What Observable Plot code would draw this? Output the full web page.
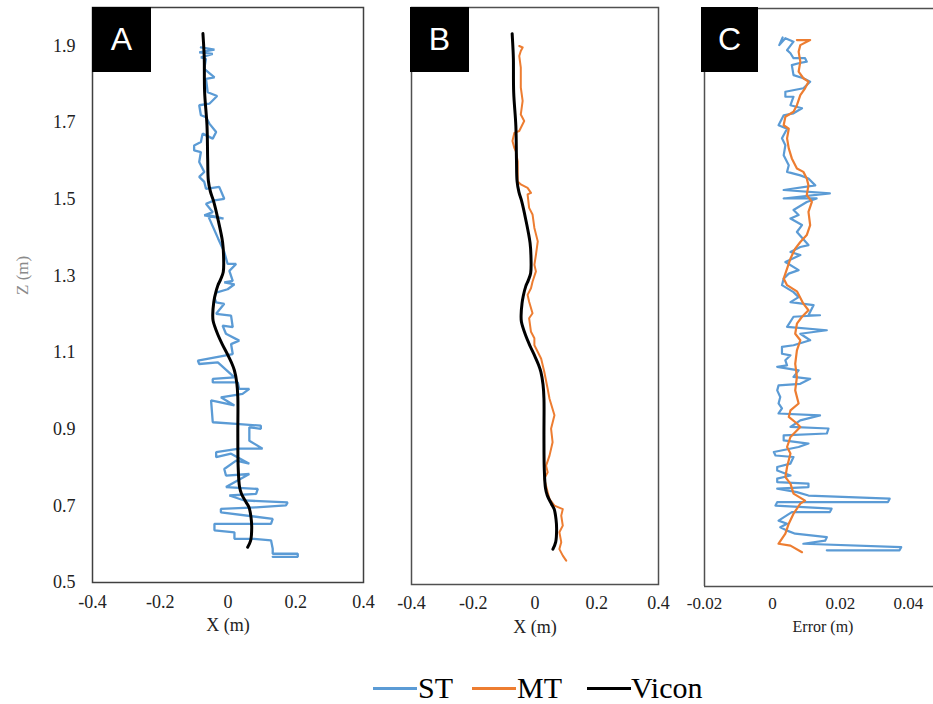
<!DOCTYPE html>
<html><head><meta charset="utf-8">
<script src="https://cdn.jsdelivr.net/npm/d3@7"></script>
<script src="https://cdn.jsdelivr.net/npm/@observablehq/plot@0.6"></script>
<style>
body{margin:0;background:#fff;}
#wrap{position:relative;width:933px;height:704px;overflow:hidden;background:#fff;}
.panel{position:absolute;top:0;}
.tag{position:absolute;top:7px;height:65px;background:#000;color:#fff;font-family:"Liberation Sans",Arial,sans-serif;font-size:32px;display:flex;align-items:center;justify-content:center;}
.leg{position:absolute;font-family:"Liberation Serif","Times New Roman","DejaVu Serif",serif;font-size:30px;color:#000;line-height:34px;top:671px;}
.legline{position:absolute;top:687px;height:3px;}
</style></head>
<body><div id="wrap"></div>
<script>
// ---------- data ----------
const zDomain = [0.5, 2.0];
const zTicks = [0.5, 0.7, 0.9, 1.1, 1.3, 1.5, 1.7, 1.9];
const xDomainAB = [-0.4, 0.4];
const xTicksAB = [-0.4, -0.2, 0, 0.2, 0.4];
const xDomainC = [-0.02, 0.0474];
const xTicksC = [-0.02, 0, 0.02, 0.04];
const panelTags = ["A", "B", "C"];
const axisLabels = {x: "X (m)", z: "Z (m)", err: "Error (m)"};
const seriesNames = ["ST", "MT", "Vicon"];
const seriesColors = ["#5b9bd5", "#ed7d31", "#000000"];

// Vicon trajectory (same in A and B)
const viconZ = [1.932,1.888,1.866,1.779,1.692,1.605,1.548,1.520,1.496,1.449,1.388,1.350,1.310,1.290,1.275,1.250,1.231,1.200,1.183,1.149,1.120,1.096,1.070,1.053,1.020,0.983,0.888,0.801,0.750,0.731,0.710,0.696,0.670,0.644,0.610,0.592];
const viconX = [-0.074,-0.071,-0.070,-0.069,-0.062,-0.060,-0.058,-0.052,-0.043,-0.030,-0.016,-0.013,-0.014,-0.022,-0.030,-0.038,-0.042,-0.045,-0.044,-0.031,-0.016,-0.002,0.012,0.019,0.026,0.029,0.029,0.030,0.034,0.040,0.053,0.062,0.068,0.070,0.067,0.058];

// ST trajectory (panel A)
const stZ = [1.896,1.890,1.883,1.879,1.870,1.866,1.840,1.818,1.814,1.779,1.769,1.749,1.745,1.719,1.714,1.697,1.675,1.658,1.671,1.649,1.640,1.627,1.623,1.597,1.571,1.558,1.545,1.527,1.532,1.501,1.497,1.488,1.466,1.458,1.449,1.459,1.397,1.362,1.331,1.331,1.313,1.287,1.283,1.278,1.265,1.256,1.243,1.231,1.227,1.201,1.196,1.166,1.170,1.149,1.131,1.122,1.096,1.079,1.070,1.074,1.035,1.031,1.022,1.022,1.005,1.005,0.992,0.983,0.962,0.975,0.918,0.914,0.909,0.901,0.905,0.870,0.849,0.849,0.840,0.827,0.836,0.810,0.818,0.796,0.779,0.783,0.749,0.744,0.731,0.727,0.714,0.709,0.701,0.696,0.692,0.683,0.666,0.653,0.653,0.636,0.631,0.614,0.614,0.610,0.588,0.575,0.575,0.567,0.567];
const stX = [-0.080,-0.040,-0.085,-0.045,-0.080,-0.065,-0.070,-0.040,-0.065,-0.060,-0.032,-0.055,-0.085,-0.080,-0.065,-0.055,-0.035,-0.045,-0.075,-0.080,-0.100,-0.100,-0.080,-0.085,-0.070,-0.085,-0.070,-0.065,-0.026,-0.011,-0.040,-0.065,-0.045,-0.070,-0.013,-0.060,-0.029,-0.011,-0.001,0.024,0.004,0.014,-0.011,0.019,-0.001,-0.035,-0.040,-0.035,-0.011,-0.035,0.009,0.014,-0.016,-0.006,0.033,0.009,0.014,-0.089,-0.085,-0.030,0.019,-0.045,-0.045,0.029,0.033,0.063,0.043,-0.021,0.019,-0.050,-0.045,0.024,0.097,0.097,0.063,0.063,0.102,0.033,-0.035,-0.035,0.009,0.063,0.024,-0.011,-0.006,0.063,-0.006,0.088,0.083,0.004,0.048,0.176,0.171,0.083,-0.021,-0.021,0.132,0.127,-0.040,-0.040,0.019,0.019,0.077,0.127,0.132,0.132,0.206,0.206,0.132];

// MT trajectory (panel B)
const mtZ = [1.900,1.896,1.887,1.874,1.844,1.792,1.757,1.722,1.705,1.679,1.674,1.653,1.635,1.626,1.600,1.548,1.540,1.531,1.518,1.514,1.479,1.462,1.427,1.392,1.357,1.331,1.314,1.287,1.270,1.253,1.235,1.205,1.192,1.157,1.140,1.122,1.114,1.087,1.053,1.009,0.983,0.940,0.905,0.870,0.835,0.809,0.792,0.775,0.740,0.722,0.705,0.696,0.679,0.653,0.636,0.610,0.592,0.575,0.562];
const mtX = [-0.051,-0.040,-0.046,-0.051,-0.046,-0.046,-0.040,-0.046,-0.035,-0.051,-0.067,-0.073,-0.067,-0.062,-0.056,-0.056,-0.046,-0.024,-0.013,-0.024,-0.019,-0.008,-0.002,0.009,0.003,-0.002,0.003,-0.008,-0.013,-0.024,-0.019,-0.008,-0.019,-0.013,-0.002,-0.002,0.003,0.020,0.030,0.041,0.047,0.063,0.052,0.057,0.047,0.036,0.041,0.030,0.041,0.047,0.063,0.090,0.085,0.090,0.079,0.085,0.079,0.090,0.101];

// Errors (panel C)
const stErrZ = [1.925,1.905,1.923,1.914,1.892,1.884,1.871,1.871,1.862,1.858,1.853,1.827,1.819,1.810,1.793,1.784,1.771,1.771,1.749,1.741,1.728,1.723,1.697,1.688,1.663,1.645,1.619,1.593,1.576,1.567,1.559,1.541,1.529,1.520,1.507,1.507,1.498,1.477,1.464,1.455,1.438,1.420,1.386,1.381,1.368,1.360,1.342,1.321,1.312,1.299,1.282,1.264,1.251,1.238,1.230,1.204,1.204,1.200,1.174,1.165,1.156,1.139,1.126,1.122,1.104,1.100,1.087,1.074,1.070,1.061,1.044,1.039,1.026,1.022,1.009,0.992,0.975,0.962,0.949,0.944,0.931,0.914,0.910,0.897,0.892,0.879,0.871,0.862,0.849,0.840,0.836,0.819,0.810,0.801,0.788,0.780,0.771,0.767,0.758,0.754,0.745,0.736,0.728,0.719,0.719,0.710,0.702,0.693,0.693,0.671,0.663,0.654,0.645,0.637,0.628,0.619,0.611,0.602,0.594,0.594];
const stErr = [0.0030,0.0020,0.0038,0.0062,0.0043,0.0053,0.0062,0.0096,0.0101,0.0077,0.0057,0.0062,0.0091,0.0111,0.0091,0.0038,0.0038,0.0062,0.0053,0.0087,0.0062,0.0033,0.0018,0.0043,0.0028,0.0038,0.0033,0.0048,0.0043,0.0082,0.0106,0.0126,0.0033,0.0169,0.0033,0.0130,0.0101,0.0062,0.0077,0.0053,0.0087,0.0072,0.0106,0.0082,0.0053,0.0082,0.0038,0.0077,0.0048,0.0033,0.0028,0.0062,0.0077,0.0053,0.0121,0.0106,0.0140,0.0062,0.0043,0.0160,0.0082,0.0111,0.0062,0.0028,0.0028,0.0053,0.0038,0.0043,0.0014,0.0077,0.0062,0.0111,0.0082,0.0018,0.0014,0.0023,0.0018,0.0028,0.0018,0.0140,0.0082,0.0053,0.0165,0.0160,0.0033,0.0033,0.0106,0.0077,0.0004,0.0009,0.0062,0.0053,0.0014,0.0014,0.0053,0.0014,0.0014,0.0106,0.0106,0.0014,0.0072,0.0106,0.0345,0.0340,0.0014,0.0009,0.0174,0.0169,0.0057,0.0018,0.0043,0.0023,0.0043,0.0067,0.0160,0.0155,0.0091,0.0379,0.0374,0.0160];
const mtErrZ = [1.918,1.918,1.905,1.888,1.862,1.836,1.819,1.810,1.793,1.775,1.749,1.732,1.719,1.697,1.688,1.663,1.637,1.611,1.585,1.576,1.559,1.541,1.516,1.498,1.472,1.438,1.412,1.394,1.377,1.351,1.325,1.299,1.282,1.266,1.234,1.217,1.200,1.182,1.156,1.139,1.113,1.078,1.044,1.009,0.975,0.957,0.940,0.923,0.914,0.888,0.862,0.845,0.810,0.784,0.767,0.741,0.723,0.715,0.689,0.663,0.637,0.611,0.606,0.589];
const mtErr = [0.0072,0.0111,0.0082,0.0077,0.0082,0.0077,0.0091,0.0106,0.0096,0.0082,0.0072,0.0062,0.0038,0.0033,0.0048,0.0043,0.0048,0.0057,0.0072,0.0091,0.0101,0.0106,0.0101,0.0116,0.0106,0.0111,0.0101,0.0082,0.0067,0.0053,0.0043,0.0033,0.0043,0.0072,0.0091,0.0106,0.0087,0.0072,0.0067,0.0082,0.0072,0.0067,0.0072,0.0067,0.0077,0.0053,0.0048,0.0072,0.0082,0.0053,0.0043,0.0053,0.0043,0.0038,0.0053,0.0062,0.0096,0.0082,0.0062,0.0048,0.0038,0.0018,0.0053,0.0087];

// ---------- tables ----------
const rows = (zs, xs) => zs.map((z, i) => ({z, x: xs[i]}));
const vicon = rows(viconZ, viconX);
const st = rows(stZ, stX);
const mt = rows(mtZ, mtX);
const stE = rows(stErrZ, stErr);
const mtE = rows(mtErrZ, mtErr);
const color = Object.fromEntries(seriesNames.map((n, i) => [n, seriesColors[i]]));

const SERIF = '"Liberation Serif","Times New Roman","DejaVu Serif",serif';
const fmt = d => String(d);
const wrap = document.getElementById("wrap");

function place(svg, left) {
  svg.classList.add("panel");
  svg.style.left = left + "px";
  wrap.appendChild(svg);
}

// Panel A
place(Plot.plot({
  width: 370, height: 650, marginLeft: 92, marginRight: 7, marginTop: 7, marginBottom: 68,
  style: {fontFamily: SERIF, fontSize: "18px", color: "#222", background: "transparent", overflow: "visible"},
  x: {domain: xDomainAB, ticks: xTicksAB, tickFormat: fmt, tickSize: 0, tickPadding: 13, label: null},
  y: {domain: zDomain, ticks: zTicks, tickFormat: fmt, tickSize: 0, tickPadding: 17, label: null},
  marks: [
    Plot.line(st, {x: "x", y: "z", stroke: color.ST, strokeWidth: 2.3, strokeLinejoin: "miter"}),
    Plot.line(vicon, {x: "x", y: "z", stroke: color.Vicon, strokeWidth: 3, curve: "catmull-rom"}),
    Plot.frame({stroke: "#404040", strokeWidth: 1.5}),
    Plot.text([axisLabels.x], {text: d => d, frameAnchor: "bottom", dy: 48, fontSize: 18, fill: "#222"}),
    Plot.text([axisLabels.z], {text: d => d, frameAnchor: "left", dx: -70, rotate: -90, fontSize: 17, fill: "#8a8a8a"})
  ]
}), 0);

// Panel B
place(Plot.plot({
  width: 290, height: 650, marginLeft: 31, marginRight: 12, marginTop: 7, marginBottom: 66,
  style: {fontFamily: SERIF, fontSize: "18px", color: "#222", background: "transparent", overflow: "visible"},
  x: {domain: xDomainAB, ticks: xTicksAB, tickFormat: fmt, tickSize: 0, tickPadding: 12, label: null},
  y: {domain: zDomain, axis: null},
  marks: [
    Plot.line(mt, {x: "x", y: "z", stroke: color.MT, strokeWidth: 2}),
    Plot.line(vicon, {x: "x", y: "z", stroke: color.Vicon, strokeWidth: 3, curve: "catmull-rom"}),
    Plot.frame({stroke: "#505050", strokeWidth: 1.5}),
    Plot.text([axisLabels.x], {text: d => d, frameAnchor: "bottom", dy: 48, fontSize: 18, fill: "#222"})
  ]
}), 380);

// Panel C
place(Plot.plot({
  width: 273, height: 650, marginLeft: 44, marginRight: 0, marginTop: 8, marginBottom: 64,
  style: {fontFamily: SERIF, fontSize: "17px", color: "#222", background: "transparent", overflow: "visible"},
  x: {domain: xDomainC, ticks: xTicksC, tickFormat: fmt, tickSize: 0, tickPadding: 10, label: null},
  y: {domain: zDomain, axis: null},
  marks: [
    Plot.line(stE, {x: "x", y: "z", stroke: color.ST, strokeWidth: 2.2}),
    Plot.line(mtE, {x: "x", y: "z", stroke: color.MT, strokeWidth: 2.2}),
    Plot.ruleX([xDomainC[0]], {stroke: "#505050", strokeWidth: 1.5}),
    Plot.ruleY(zDomain, {stroke: "#505050", strokeWidth: 1.5}),
    Plot.text([axisLabels.err], {text: d => d, frameAnchor: "bottom", dx: 4, dy: 45, fontSize: 16, fill: "#222"})
  ]
}), 660);

// Panel tags
const tagPos = [[92, 59], [410, 59], [701, 57]];
panelTags.forEach((t, i) => {
  const d = document.createElement("div");
  d.className = "tag";
  d.style.left = tagPos[i][0] + "px";
  d.style.width = tagPos[i][1] + "px";
  d.textContent = t;
  wrap.appendChild(d);
});

// Legend
const legPos = [[373, 418], [472, 517], [587, 631]];
seriesNames.forEach((n, i) => {
  const l = document.createElement("div");
  l.className = "legline";
  l.style.left = legPos[i][0] + "px";
  l.style.width = "44px";
  l.style.background = seriesColors[i];
  wrap.appendChild(l);
  const t = document.createElement("div");
  t.className = "leg";
  t.style.left = legPos[i][1] + "px";
  t.textContent = n;
  wrap.appendChild(t);
});
</script>
</body></html>
